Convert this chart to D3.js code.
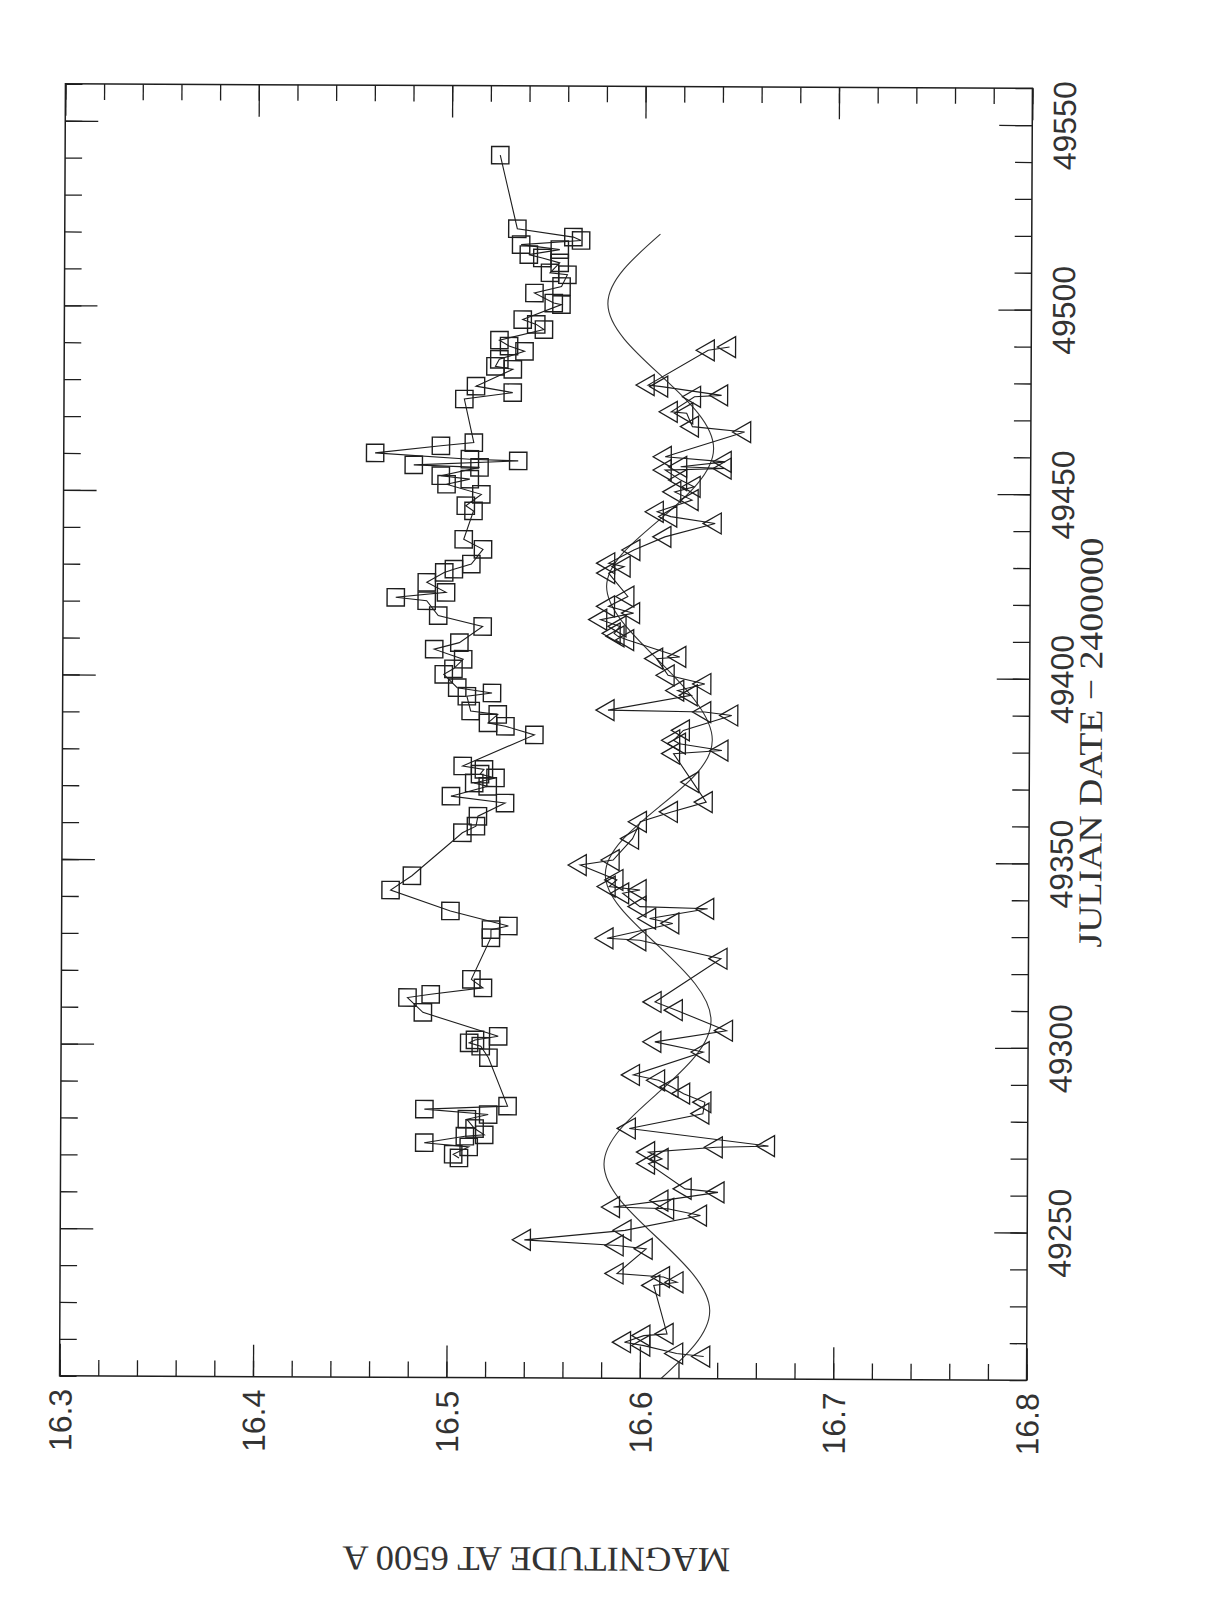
<!DOCTYPE html>
<html><head><meta charset="utf-8">
<script src="https://cdnjs.cloudflare.com/ajax/libs/d3/7.8.5/d3.min.js"></script>
<style>body{margin:0;background:#fff}</style>
</head><body><svg id="c" width="1214" height="1600"></svg>
<script>
// ---- data ----
const squareJD = [49269.5,49270.5,49272.5,49273.6,49275.4,49275.8,49277.5,49280.0,49281.3,49282.7,49283.6,
49296.7,49299.8,49300.7,49301.5,49302.5,49308.9,49312.9,49313.8,49315.6,49317.9,49329.2,49331.4,49332.4,49336.4,
49342.0,49345.9,49357.6,49359.4,49362.1,49365.7,49367.5,49370.2,49371.1,49372.5,49373.5,49374.8,49375.7,49384.2,
49386.5,49387.4,49389.7,49390.6,49394.6,49395.5,49396.9,49400.5,49402.0,49404.6,49407.3,49409.1,49413.5,49416.4,
49420.4,49421.3,49422.7,49425.4,49428.1,49429.0,49430.4,49434.4,49437.1,49444.8,49446.2,49449.3,49452.0,49453.4,
49454.3,49456.6,49457.2,49458.4,49458.8,49460.4,49462.4,49463.3,49475.1,49476.9,49478.6,49483.2,49484.0,49485.9,
49488.1,49489.5,49491.1,49494.0,49495.4,49496.7,49500.8,49501.2,49503.9,49505.7,49508.9,49509.4,49512.1,49513.4,
49514.3,49515.7,49517.0,49518.2,49519.1,49521.3,49541.2];
const squareMag = [16.506,16.503,16.511,16.488,16.509,16.519,16.514,16.510,16.521,16.488,16.531,
16.521,16.517,16.511,16.514,16.526,16.487,16.479,16.491,16.518,16.512,16.522,16.522,16.531,16.501,
16.470,16.481,16.507,16.514,16.515,16.529,16.501,16.520,16.513,16.524,16.516,16.518,16.507,16.544,
16.529,16.520,16.525,16.511,16.509,16.522,16.504,16.497,16.502,16.507,16.492,16.505,16.517,16.494,
16.488,16.472,16.498,16.488,16.497,16.502,16.511,16.517,16.507,16.512,16.508,16.516,16.498,16.510,
16.495,16.515,16.481,16.535,16.510,16.461,16.495,16.512,16.507,16.532,16.513,16.532,16.523,16.525,
16.538,16.530,16.525,16.548,16.544,16.537,16.557,16.553,16.543,16.557,16.560,16.551,16.556,16.547,
16.540,16.556,16.536,16.567,16.563,16.534,16.525];

const triJD = [49216.0,49216.8,49218.9,49219.8,49221.6,49222.1,49235.2,49236.1,49237.5,49238.4,49245.1,49246.0,
49247.4,49250.1,49254.2,49256.0,49256.4,49258.2,49260.5,49261.4,49268.2,49269.5,49271.3,49272.7,49273.1,49277.7,
49281.8,49284.9,49287.2,49289.0,49290.8,49292.2,49298.5,49301.2,49304.3,49309.8,49312.0,49323.8,49328.7,49329.2,
49333.3,49334.6,49337.3,49337.8,49341.4,49342.3,49343.2,49345.0,49349.0,49350.4,49356.2,49360.8,49363.5,49366.2,
49371.6,49379.3,49380.2,49382.0,49382.9,49385.6,49389.7,49390.6,49391.0,49395.1,49396.4,49398.2,49400.5,49405.0,
49405.5,49410.0,49411.0,49411.8,49413.7,49415.5,49417.3,49419.1,49421.8,49428.1,49429.9,49430.8,49434.4,49438.0,
49441.7,49443.5,49444.8,49448.0,49450.2,49451.6,49453.4,49456.1,49456.6,49457.0,49458.4,49459.7,49466.5,49467.9,
49471.5,49471.9,49476.0,49476.4,49478.7,49479.1,49488.6,49489.5];
const triMag = [16.633,16.619,16.602,16.592,16.602,16.614,16.607,16.619,16.612,16.588,16.603,16.588,
16.540,16.592,16.631,16.614,16.586,16.611,16.640,16.623,16.604,16.611,16.604,16.639,16.666,16.594,
16.632,16.633,16.622,16.616,16.609,16.596,16.632,16.607,16.644,16.618,16.607,16.641,16.599,16.582,
16.616,16.604,16.634,16.599,16.590,16.599,16.583,16.587,16.568,16.585,16.595,16.599,16.615,16.633,
16.626,16.616,16.641,16.619,16.616,16.621,16.646,16.632,16.582,16.625,16.618,16.632,16.613,16.607,
16.619,16.592,16.587,16.585,16.588,16.578,16.595,16.582,16.592,16.582,16.590,16.582,16.595,16.611,
16.637,16.614,16.607,16.625,16.616,16.626,16.619,16.611,16.642,16.619,16.642,16.611,16.652,16.625,
16.622,16.614,16.626,16.640,16.609,16.602,16.633,16.644];

// fitted curve, read at its extremes and mid crossings
const fitJD  = [49210,49228.5,49248,49268,49287.5,49307,49327,49346.5,49365,49383,49404,49424.5,49443,49462,49481.5,49501,49520];
const fitMag = [16.611,16.636,16.609,16.581,16.609,16.636,16.609,16.581,16.609,16.636,16.609,16.581,16.609,16.636,16.609,16.581,16.608];

const magTicks = [16.3,16.4,16.5,16.6,16.7,16.8];
const jdTicks = [49250,49300,49350,49400,49450,49500,49550];
const magTitle = "MAGNITUDE AT 6500 A";
const jdTitle = "JULIAN DATE \u2212 2400000";

// ---- layout ----
const L = 62.5, R = 1029.5, T = 86, B = 1378;
const x = d3.scaleLinear().domain([16.3, 16.8]).range([L, R]);
const y = d3.scaleLinear().domain([49210, 49560]).range([B, T]);
const ink = "#1e1e1e";

const svg = d3.select("#c");
svg.append("rect").attr("width", 1214).attr("height", 1600).attr("fill", "#fff");
const g = svg.append("g").attr("transform", "rotate(0.26,546,732)");

function axisG(axis, tf) {
  const a = g.append("g").attr("transform", tf).call(axis);
  a.select(".domain").remove();
  a.selectAll("line").attr("stroke", ink).attr("stroke-width", 1.3);
  return a;
}
// minor ticks
axisG(d3.axisBottom(x).tickValues(x.ticks(25)).tickSize(-16).tickFormat(""), `translate(0,${B})`);
axisG(d3.axisTop(x).tickValues(x.ticks(25)).tickSize(-16).tickFormat(""), `translate(0,${T})`);
axisG(d3.axisLeft(y).tickValues(y.ticks(35)).tickSize(-17).tickFormat(""), `translate(${L},0)`);
axisG(d3.axisRight(y).tickValues(y.ticks(35)).tickSize(-17).tickFormat(""), `translate(${R},0)`);
// major ticks
const bAx = axisG(d3.axisBottom(x).tickValues(magTicks).tickSize(-32).tickFormat(d3.format(".1f")), `translate(0,${B})`);
axisG(d3.axisTop(x).tickValues(magTicks).tickSize(-32).tickFormat(""), `translate(0,${T})`);
axisG(d3.axisLeft(y).tickValues(jdTicks).tickSize(-33).tickFormat(""), `translate(${L},0)`);
const rAx = axisG(d3.axisRight(y).tickValues(jdTicks).tickSize(-33).tickFormat(d3.format("d")), `translate(${R},0)`);

bAx.selectAll("text")
  .attr("x", 0).attr("y", 0).attr("dy", "0.36em")
  .attr("text-anchor", "end")
  .attr("transform", "translate(0,13) rotate(-90)")
  .attr("font-family", "Liberation Sans, Arial, sans-serif")
  .attr("font-size", 32).attr("fill", "#333");
rAx.selectAll("text")
  .attr("x", 0).attr("y", 0).attr("dy", "0.36em")
  .attr("text-anchor", "middle")
  .attr("transform", "translate(32,0) rotate(-90)")
  .attr("font-family", "Liberation Sans, Arial, sans-serif")
  .attr("font-size", 32).attr("fill", "#333");

// frame
g.append("rect").attr("x", L).attr("y", T).attr("width", R - L).attr("height", B - T)
  .attr("fill", "none").attr("stroke", ink).attr("stroke-width", 1.5);

// titles
g.append("text").text(jdTitle)
  .attr("transform", "translate(1090,740) rotate(-90)")
  .attr("text-anchor", "middle").attr("dy", "0.36em")
  .attr("textLength", 410).attr("lengthAdjust", "spacingAndGlyphs")
  .attr("font-family", "Liberation Serif, 'Times New Roman', serif")
  .attr("font-size", 33).attr("fill", "#333");
g.append("text").text(magTitle)
  .attr("transform", "translate(540,1560) rotate(180)")
  .attr("text-anchor", "middle").attr("dy", "0.36em")
  .attr("textLength", 388).attr("lengthAdjust", "spacingAndGlyphs")
  .attr("font-family", "Liberation Serif, 'Times New Roman', serif")
  .attr("font-size", 35).attr("fill", "#333");

// data
const sq = squareJD.map((d, i) => ({ jd: d, mag: squareMag[i] }));
const tr = triJD.map((d, i) => ({ jd: d, mag: triMag[i] }));
const fit = fitJD.map((d, i) => ({ jd: d, mag: fitMag[i] }));

svg.append("clipPath").attr("id", "fr").append("rect")
  .attr("x", L).attr("y", T).attr("width", R - L).attr("height", B - T);

const curve = d3.line().x(d => x(d.mag)).y(d => y(d.jd)).curve(d3.curveNatural);
g.append("path").datum(fit).attr("d", curve)
  .attr("fill", "none").attr("stroke", "#333").attr("stroke-width", 1.1)
  .attr("clip-path", "url(#fr)");
const lin = d3.line().x(d => x(d.mag)).y(d => y(d.jd));
g.append("path").datum(sq).attr("d", lin)
  .attr("fill", "none").attr("stroke", ink).attr("stroke-width", 1.1);
g.append("path").datum(tr).attr("d", lin)
  .attr("fill", "none").attr("stroke", ink).attr("stroke-width", 1.1);

const sqSym = d3.symbol().type(d3.symbolSquare).size(300);
g.append("g").selectAll("path").data(sq).join("path")
  .attr("d", sqSym)
  .attr("transform", d => `translate(${x(d.mag)},${y(d.jd)})`)
  .attr("fill", "none").attr("stroke", ink).attr("stroke-width", 1.4);

const triSym = d3.symbol().type(d3.symbolTriangle).size(190);
g.append("g").selectAll("path").data(tr).join("path")
  .attr("d", triSym)
  .attr("transform", d => `translate(${x(d.mag)},${y(d.jd)}) rotate(-90)`)
  .attr("fill", "none").attr("stroke", ink).attr("stroke-width", 1.3);
</script>
</body></html>
